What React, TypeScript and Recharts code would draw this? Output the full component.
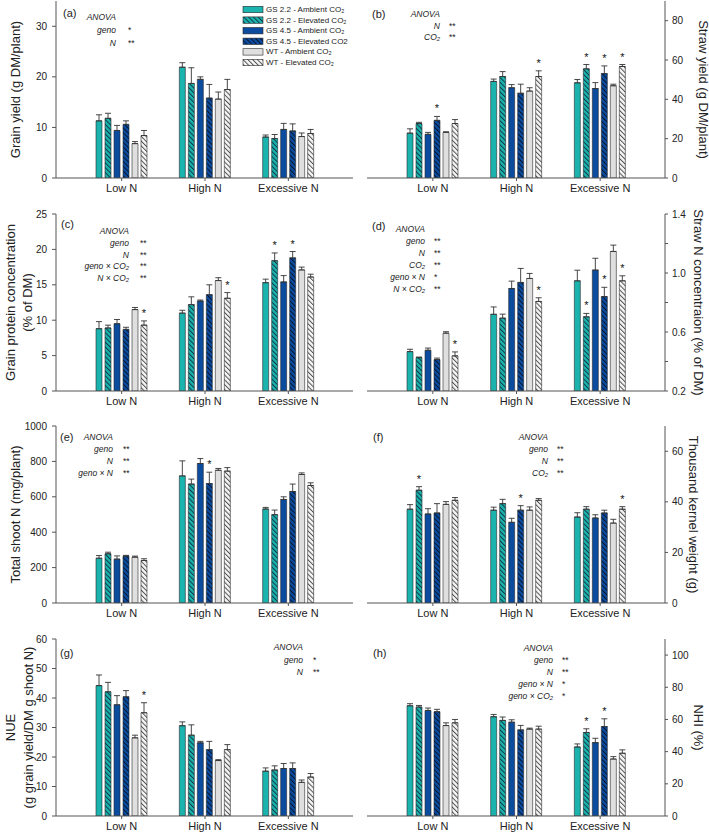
import React from "react";
import { BarChart, Bar, XAxis, YAxis, ErrorBar, LabelList } from "recharts";

const FONT = '"Liberation Sans", Arial, sans-serif';

const categories = ["Low N", "High N", "Excessive N"];
const seriesNames = [
  "GS 2.2 - Ambient CO₂",
  "GS 2.2 - Elevated CO₂",
  "GS 4.5 - Ambient CO₂",
  "GS 4.5 - Elevated CO2",
  "WT - Ambient CO₂",
  "WT - Elevated CO₂",
];

// rows follow seriesNames, columns follow categories
const grainYieldMean = [
  [11.3, 21.9, 8.1],
  [11.8, 18.7, 7.8],
  [9.4, 19.5, 9.6],
  [10.6, 15.8, 9.3],
  [6.8, 15.6, 8.2],
  [8.4, 17.5, 8.8],
];
const grainYieldErr = [
  [1.2, 0.9, 0.4],
  [1.0, 3.1, 0.8],
  [1.0, 0.5, 1.2],
  [0.7, 2.7, 1.4],
  [0.4, 1.4, 0.7],
  [1.0, 2.0, 0.8],
];
const grainYieldSig = [
  [0, 0, 0],
  [0, 0, 0],
  [0, 0, 0],
  [0, 0, 0],
  [0, 0, 0],
  [0, 0, 0],
];
const grainYieldTicks = [0, 10, 20, 30];

const strawYieldMean = [
  [22.8, 49.1, 48.4],
  [27.7, 51.6, 55.5],
  [22.2, 45.9, 45.5],
  [29.3, 43.1, 53.1],
  [23.2, 44.2, 46.9],
  [27.7, 51.6, 56.7],
];
const strawYieldErr = [
  [2.2, 1.2, 1.7],
  [0.6, 2.5, 2.2],
  [1.0, 1.6, 3.0],
  [2.0, 4.6, 3.9],
  [0.3, 1.7, 0.8],
  [2.0, 2.9, 1.0],
];
const strawYieldSig = [
  [0, 0, 0],
  [0, 0, 1],
  [0, 0, 0],
  [1, 0, 1],
  [0, 0, 0],
  [0, 1, 1],
];
const strawYieldTicks = [0, 20, 40, 60, 80];

const grainProteinMean = [
  [8.8, 11.0, 15.3],
  [8.9, 12.2, 18.4],
  [9.5, 12.7, 15.4],
  [8.7, 13.6, 18.8],
  [11.5, 15.6, 17.1],
  [9.3, 13.1, 16.1],
];
const grainProteinErr = [
  [1.0, 0.4, 0.5],
  [0.4, 1.1, 1.1],
  [0.6, 0.15, 0.9],
  [0.3, 1.4, 0.9],
  [0.3, 0.4, 0.4],
  [0.6, 0.8, 0.4],
];
const grainProteinSig = [
  [0, 0, 0],
  [0, 0, 1],
  [0, 0, 0],
  [0, 0, 1],
  [0, 0, 0],
  [1, 1, 0],
];
const grainProteinTicks = [0, 5, 10, 15, 20, 25];

const strawNMean = [
  [0.467, 0.72, 0.947],
  [0.426, 0.694, 0.703],
  [0.476, 0.895, 1.02],
  [0.413, 0.936, 0.84],
  [0.592, 0.963, 1.146],
  [0.438, 0.807, 0.947],
];
const strawNErr = [
  [0.016, 0.05, 0.072],
  [0.004, 0.027, 0.023],
  [0.015, 0.05, 0.08],
  [0.01, 0.095, 0.063],
  [0.01, 0.034, 0.043],
  [0.027, 0.025, 0.034],
];
const strawNSig = [
  [0, 0, 0],
  [0, 0, 1],
  [0, 0, 0],
  [0, 0, 1],
  [0, 0, 0],
  [1, 1, 1],
];
const strawNTicks = [0.2, 0.4, 0.6, 0.8, 1.0, 1.2, 1.4];

const shootNMean = [
  [253, 718, 531],
  [278, 672, 499],
  [248, 788, 585],
  [265, 675, 630],
  [259, 750, 726],
  [240, 745, 664],
];
const shootNErr = [
  [15, 85, 9],
  [9, 28, 26],
  [18, 28, 15],
  [4, 64, 42],
  [6, 10, 9],
  [10, 20, 15],
];
const shootNSig = [
  [0, 0, 0],
  [0, 0, 0],
  [0, 0, 0],
  [0, 1, 0],
  [0, 0, 0],
  [0, 0, 0],
];
const shootNTicks = [0, 200, 400, 600, 800, 1000];

const kernelMean = [
  [37.1, 36.7, 34.0],
  [44.6, 39.3, 37.1],
  [35.2, 31.9, 33.6],
  [35.6, 36.7, 35.6],
  [39.0, 36.7, 31.6],
  [40.6, 40.6, 37.1],
];
const kernelErr = [
  [1.8, 1.2, 1.7],
  [1.4, 1.7, 1.0],
  [2.1, 1.6, 1.3],
  [3.7, 1.8, 1.1],
  [1.1, 1.3, 1.5],
  [1.1, 0.7, 1.0],
];
const kernelSig = [
  [0, 0, 0],
  [1, 0, 0],
  [0, 0, 0],
  [0, 1, 0],
  [0, 0, 0],
  [0, 0, 1],
];
const kernelTicks = [0, 20, 40, 60];

const nueMean = [
  [44.2, 30.6, 15.2],
  [42.1, 27.4, 15.6],
  [37.7, 24.8, 16.1],
  [40.4, 22.5, 16.1],
  [26.5, 18.8, 11.4],
  [35.0, 22.5, 13.2],
];
const nueErr = [
  [3.6, 1.3, 1.1],
  [3.2, 3.5, 1.4],
  [3.1, 0.5, 1.7],
  [2.1, 2.8, 1.9],
  [0.9, 0.3, 0.8],
  [3.4, 1.7, 1.2],
];
const nueSig = [
  [0, 0, 0],
  [0, 0, 0],
  [0, 0, 0],
  [0, 0, 0],
  [0, 0, 0],
  [1, 0, 0],
];
const nueTicks = [0, 10, 20, 30, 40, 50, 60];

const nhiMean = [
  [68.5, 61.7, 42.9],
  [67.7, 59.4, 51.9],
  [65.6, 58.3, 45.6],
  [64.8, 53.5, 55.6],
  [56.2, 54.0, 35.4],
  [57.9, 54.0, 39.0],
];
const nhiErr = [
  [1.3, 1.4, 1.9],
  [1.0, 2.1, 2.3],
  [1.5, 1.5, 2.7],
  [1.5, 2.8, 4.8],
  [1.7, 0.6, 1.5],
  [2.1, 1.8, 2.1],
];
const nhiSig = [
  [0, 0, 0],
  [0, 0, 1],
  [0, 0, 0],
  [0, 0, 1],
  [0, 0, 0],
  [0, 0, 0],
];
const nhiTicks = [0, 20, 40, 60, 80, 100];

// ANOVA significance tables
const anovaA = [["geno", "*"], ["N", "**"]];
const anovaB = [["N", "**"], ["CO₂", "**"]];
const anovaC = [["geno", "**"], ["N", "**"], ["geno × CO₂", "**"], ["N × CO₂", "**"]];
const anovaD = [["geno", "**"], ["N", "**"], ["CO₂", "**"], ["geno × N", "*"], ["N × CO₂", "**"]];
const anovaE = [["geno", "**"], ["N", "**"], ["geno × N", "**"]];
const anovaF = [["geno", "**"], ["N", "**"], ["CO₂", "**"]];
const anovaG = [["geno", "*"], ["N", "**"]];
const anovaH = [["geno", "**"], ["N", "**"], ["geno × N", "*"], ["geno × CO₂", "*"]];

const CYAN = "#1bb3ae";
const BLUE = "#0b4c9f";
const GRAY = "#dfdfdf";
const AXIS = "#555";
const TEXT = "#222";

const PLOT_H = 177;
const M_TOP = 10;
const AXIS_H = 30;
const CHART_H = M_TOP + PLOT_H + AXIS_H;

const buildRows = (mean: number[][], err: number[][], sig: number[][]) =>
  categories.map((cat, c) => {
    const row: any = { cat };
    mean.forEach((m, s) => {
      row[`v${s}`] = m[c];
      row[`e${s}`] = [0, err[s][c]];
      row[`st${s}`] = sig[s][c] ? err[s][c] : null;
    });
    return row;
  });

const hatchDefs = (id: string) => (
  <defs>
    {[
      ["c", CYAN, "#0d3340"],
      ["b", BLUE, "#03122b"],
      ["g", "#f6f6f6", "#4a4a4a"],
    ].map(([k, bg, fg]) => (
      <pattern
        key={k}
        id={`${id}-${k}`}
        patternUnits="userSpaceOnUse"
        width={3.4}
        height={3.4}
        patternTransform="rotate(-45)"
      >
        <rect width={3.4} height={3.4} fill={bg} />
        <line x1={0.5} y1={0} x2={0.5} y2={3.4} stroke={fg} strokeWidth={0.95} />
      </pattern>
    ))}
  </defs>
);

const starContent = (span: number) => (props: any) => {
  const { value } = props;
  if (value == null || value === false) return null;
  const vb = props.viewBox || {};
  const x = props.x ?? vb.x;
  const y = props.y ?? vb.y;
  const w = props.width ?? vb.width;
  const errPx = (Number(value) * PLOT_H) / span;
  return (
    <text
      x={x + w / 2}
      y={y - errPx - 4}
      textAnchor="middle"
      fontSize={11}
      fontFamily={FONT}
      fill="#111"
    >
      *
    </text>
  );
};

const Panel = ({ p }: { p: any }) => {
  const left = p.side === "left";
  const rows = buildRows(p.mean, p.err, p.sig);
  const span = p.domain[1] - p.domain[0];
  const fills = [CYAN, `url(#${p.id}-c)`, BLUE, `url(#${p.id}-b)`, GRAY, `url(#${p.id}-g)`];
  const tickStyle = { fontSize: 10, fill: TEXT, fontFamily: FONT };

  return (
    <div style={{ position: "absolute", left: left ? 0 : 360, top: p.top - M_TOP }}>
      <BarChart
        width={left ? 360 : 349}
        height={CHART_H}
        data={rows}
        margin={{ top: M_TOP, right: left ? 7 : 0, bottom: 0, left: left ? 0 : 7 }}
        barCategoryGap={16}
        barGap={3}
      >
        {hatchDefs(p.id)}
        <XAxis
          dataKey="cat"
          padding={{ left: 24, right: 23 }}
          height={AXIS_H}
          interval={0}
          tickSize={3}
          tickMargin={3}
          axisLine={{ stroke: AXIS }}
          tickLine={{ stroke: AXIS }}
          tick={{ fontSize: 11, fill: TEXT, fontFamily: FONT }}
        />
        <XAxis
          xAxisId="top"
          orientation="top"
          dataKey="cat"
          height={0}
          tick={false}
          tickLine={false}
          axisLine={{ stroke: AXIS }}
        />
        <YAxis
          orientation={left ? "left" : "right"}
          width={left ? 56 : 44}
          domain={p.domain}
          ticks={p.ticks}
          allowDataOverflow
          tickFormatter={p.fmt}
          tickSize={left ? 4 : 3}
          tickMargin={left ? 5 : 4}
          axisLine={{ stroke: AXIS }}
          tickLine={{ stroke: AXIS }}
          tick={tickStyle}
        />
        <YAxis
          yAxisId="frame"
          orientation={left ? "right" : "left"}
          width={0}
          domain={p.domain}
          tick={false}
          tickLine={false}
          axisLine={{ stroke: AXIS }}
        />
        {fills.map((f, s) => (
          <Bar
            key={s}
            dataKey={`v${s}`}
            name={seriesNames[s]}
            fill={f}
            stroke="#2a2a2a"
            strokeWidth={0.6}
            barSize={6}
            isAnimationActive={false}
          >
            <ErrorBar
              dataKey={`e${s}`}
              width={3}
              stroke="#333"
              strokeWidth={0.9}
              isAnimationActive={false}
            />
            <LabelList dataKey={`st${s}`} content={starContent(span)} />
          </Bar>
        ))}
        {p.title.map((t: string, i: number) => (
          <text
            key={i}
            transform={`translate(${p.titleX[i]},${M_TOP + PLOT_H / 2}) rotate(${left ? -90 : 90})`}
            textAnchor="middle"
            dominantBaseline="central"
            fontSize={13}
            fontFamily={FONT}
            fill={TEXT}
          >
            {t}
          </text>
        ))}
      </BarChart>
    </div>
  );
};

const strawNFmt = (v: number) => (Math.round(v * 10) % 4 === 2 ? v.toFixed(1) : "");

const panels = [
  { id: "pa", side: "left", top: 1, mean: grainYieldMean, err: grainYieldErr, sig: grainYieldSig, domain: [0, 35], ticks: grainYieldTicks, title: ["Grain yield (g DM/plant)"], titleX: [15] },
  { id: "pb", side: "right", top: 1, mean: strawYieldMean, err: strawYieldErr, sig: strawYieldSig, domain: [0, 90], ticks: strawYieldTicks, title: ["Straw yield (g DM/plant)"], titleX: [343] },
  { id: "pc", side: "left", top: 214, mean: grainProteinMean, err: grainProteinErr, sig: grainProteinSig, domain: [0, 25], ticks: grainProteinTicks, title: ["Grain protein concentration", "(% of DM)"], titleX: [10, 27] },
  { id: "pd", side: "right", top: 214, mean: strawNMean, err: strawNErr, sig: strawNSig, domain: [0.2, 1.4], ticks: strawNTicks, fmt: strawNFmt, title: ["Straw N concentraion (% of DM)"], titleX: [338] },
  { id: "pe", side: "left", top: 426, mean: shootNMean, err: shootNErr, sig: shootNSig, domain: [0, 1000], ticks: shootNTicks, title: ["Total shoot N (mg/plant)"], titleX: [15] },
  { id: "pf", side: "right", top: 426, mean: kernelMean, err: kernelErr, sig: kernelSig, domain: [0, 70], ticks: kernelTicks, title: ["Thousand kernel weight (g)"], titleX: [333] },
  { id: "pg", side: "left", top: 639, mean: nueMean, err: nueErr, sig: nueSig, domain: [0, 60], ticks: nueTicks, title: ["NUE", "(g grain yield/DM g shoot N)"], titleX: [10, 28] },
  { id: "ph", side: "right", top: 639, mean: nhiMean, err: nhiErr, sig: nhiSig, domain: [0, 110], ticks: nhiTicks, title: ["NHI (%)"], titleX: [338] },
];

const annotations = [
  { letter: "(a)", lx: 63, ly: 13, rows: anovaA, right: 116, y0: 17, step: 13, starX: 128 },
  { letter: "(b)", lx: 372, ly: 14, rows: anovaB, right: 440, y0: 14, step: 11.5, starX: 449 },
  { letter: "(c)", lx: 61, ly: 224, rows: anovaC, right: 129, y0: 231, step: 11.8, starX: 140 },
  { letter: "(d)", lx: 372, ly: 226, rows: anovaD, right: 425, y0: 229, step: 12, starX: 434 },
  { letter: "(e)", lx: 60, ly: 437, rows: anovaE, right: 113, y0: 437, step: 12, starX: 123 },
  { letter: "(f)", lx: 373, ly: 437, rows: anovaF, right: 548, y0: 437, step: 12, starX: 557 },
  { letter: "(g)", lx: 60, ly: 653, rows: anovaG, right: 303, y0: 647, step: 12.5, starX: 313 },
  { letter: "(h)", lx: 373, ly: 653, rows: anovaH, right: 553, y0: 648, step: 12, starX: 562 },
];

const legendFills = [CYAN, "url(#lg-c)", BLUE, "url(#lg-b)", GRAY, "url(#lg-g)"];

const Overlay = () => (
  <svg
    width={709}
    height={832}
    style={{ position: "absolute", left: 0, top: 0, pointerEvents: "none" }}
  >
    {hatchDefs("lg")}
    {annotations.map((a, k) => (
      <g key={k} fontFamily={FONT} fill={TEXT}>
        <text x={a.lx} y={a.ly} fontSize={11} dominantBaseline="central">
          {a.letter}
        </text>
        <text x={a.right} y={a.y0} fontSize={8.5} fontStyle="italic" textAnchor="end" dominantBaseline="central">
          ANOVA
        </text>
        {a.rows.map(([label, sig], i) => (
          <g key={i}>
            <text
              x={a.right}
              y={a.y0 + (i + 1) * a.step}
              fontSize={8.5}
              fontStyle="italic"
              textAnchor="end"
              dominantBaseline="central"
            >
              {label}
            </text>
            <text x={a.starX} y={a.y0 + (i + 1) * a.step} fontSize={8.5} dominantBaseline="central">
              {sig}
            </text>
          </g>
        ))}
      </g>
    ))}
    {seriesNames.map((name, i) => (
      <g key={name}>
        <rect
          x={243}
          y={9.5 + i * 10.6 - 3.2}
          width={20}
          height={6.4}
          fill={legendFills[i]}
          stroke="#2a2a2a"
          strokeWidth={0.6}
        />
        <text
          x={266}
          y={9.5 + i * 10.6}
          fontSize={8}
          fontFamily={FONT}
          fill={TEXT}
          dominantBaseline="central"
        >
          {name}
        </text>
      </g>
    ))}
  </svg>
);

export default function App() {
  return (
    <div
      style={{
        position: "absolute",
        left: 0,
        top: 0,
        width: 709,
        height: 832,
        background: "#fff",
        fontFamily: FONT,
      }}
    >
      {panels.map((p) => (
        <Panel key={p.id} p={p} />
      ))}
      <Overlay />
    </div>
  );
}
